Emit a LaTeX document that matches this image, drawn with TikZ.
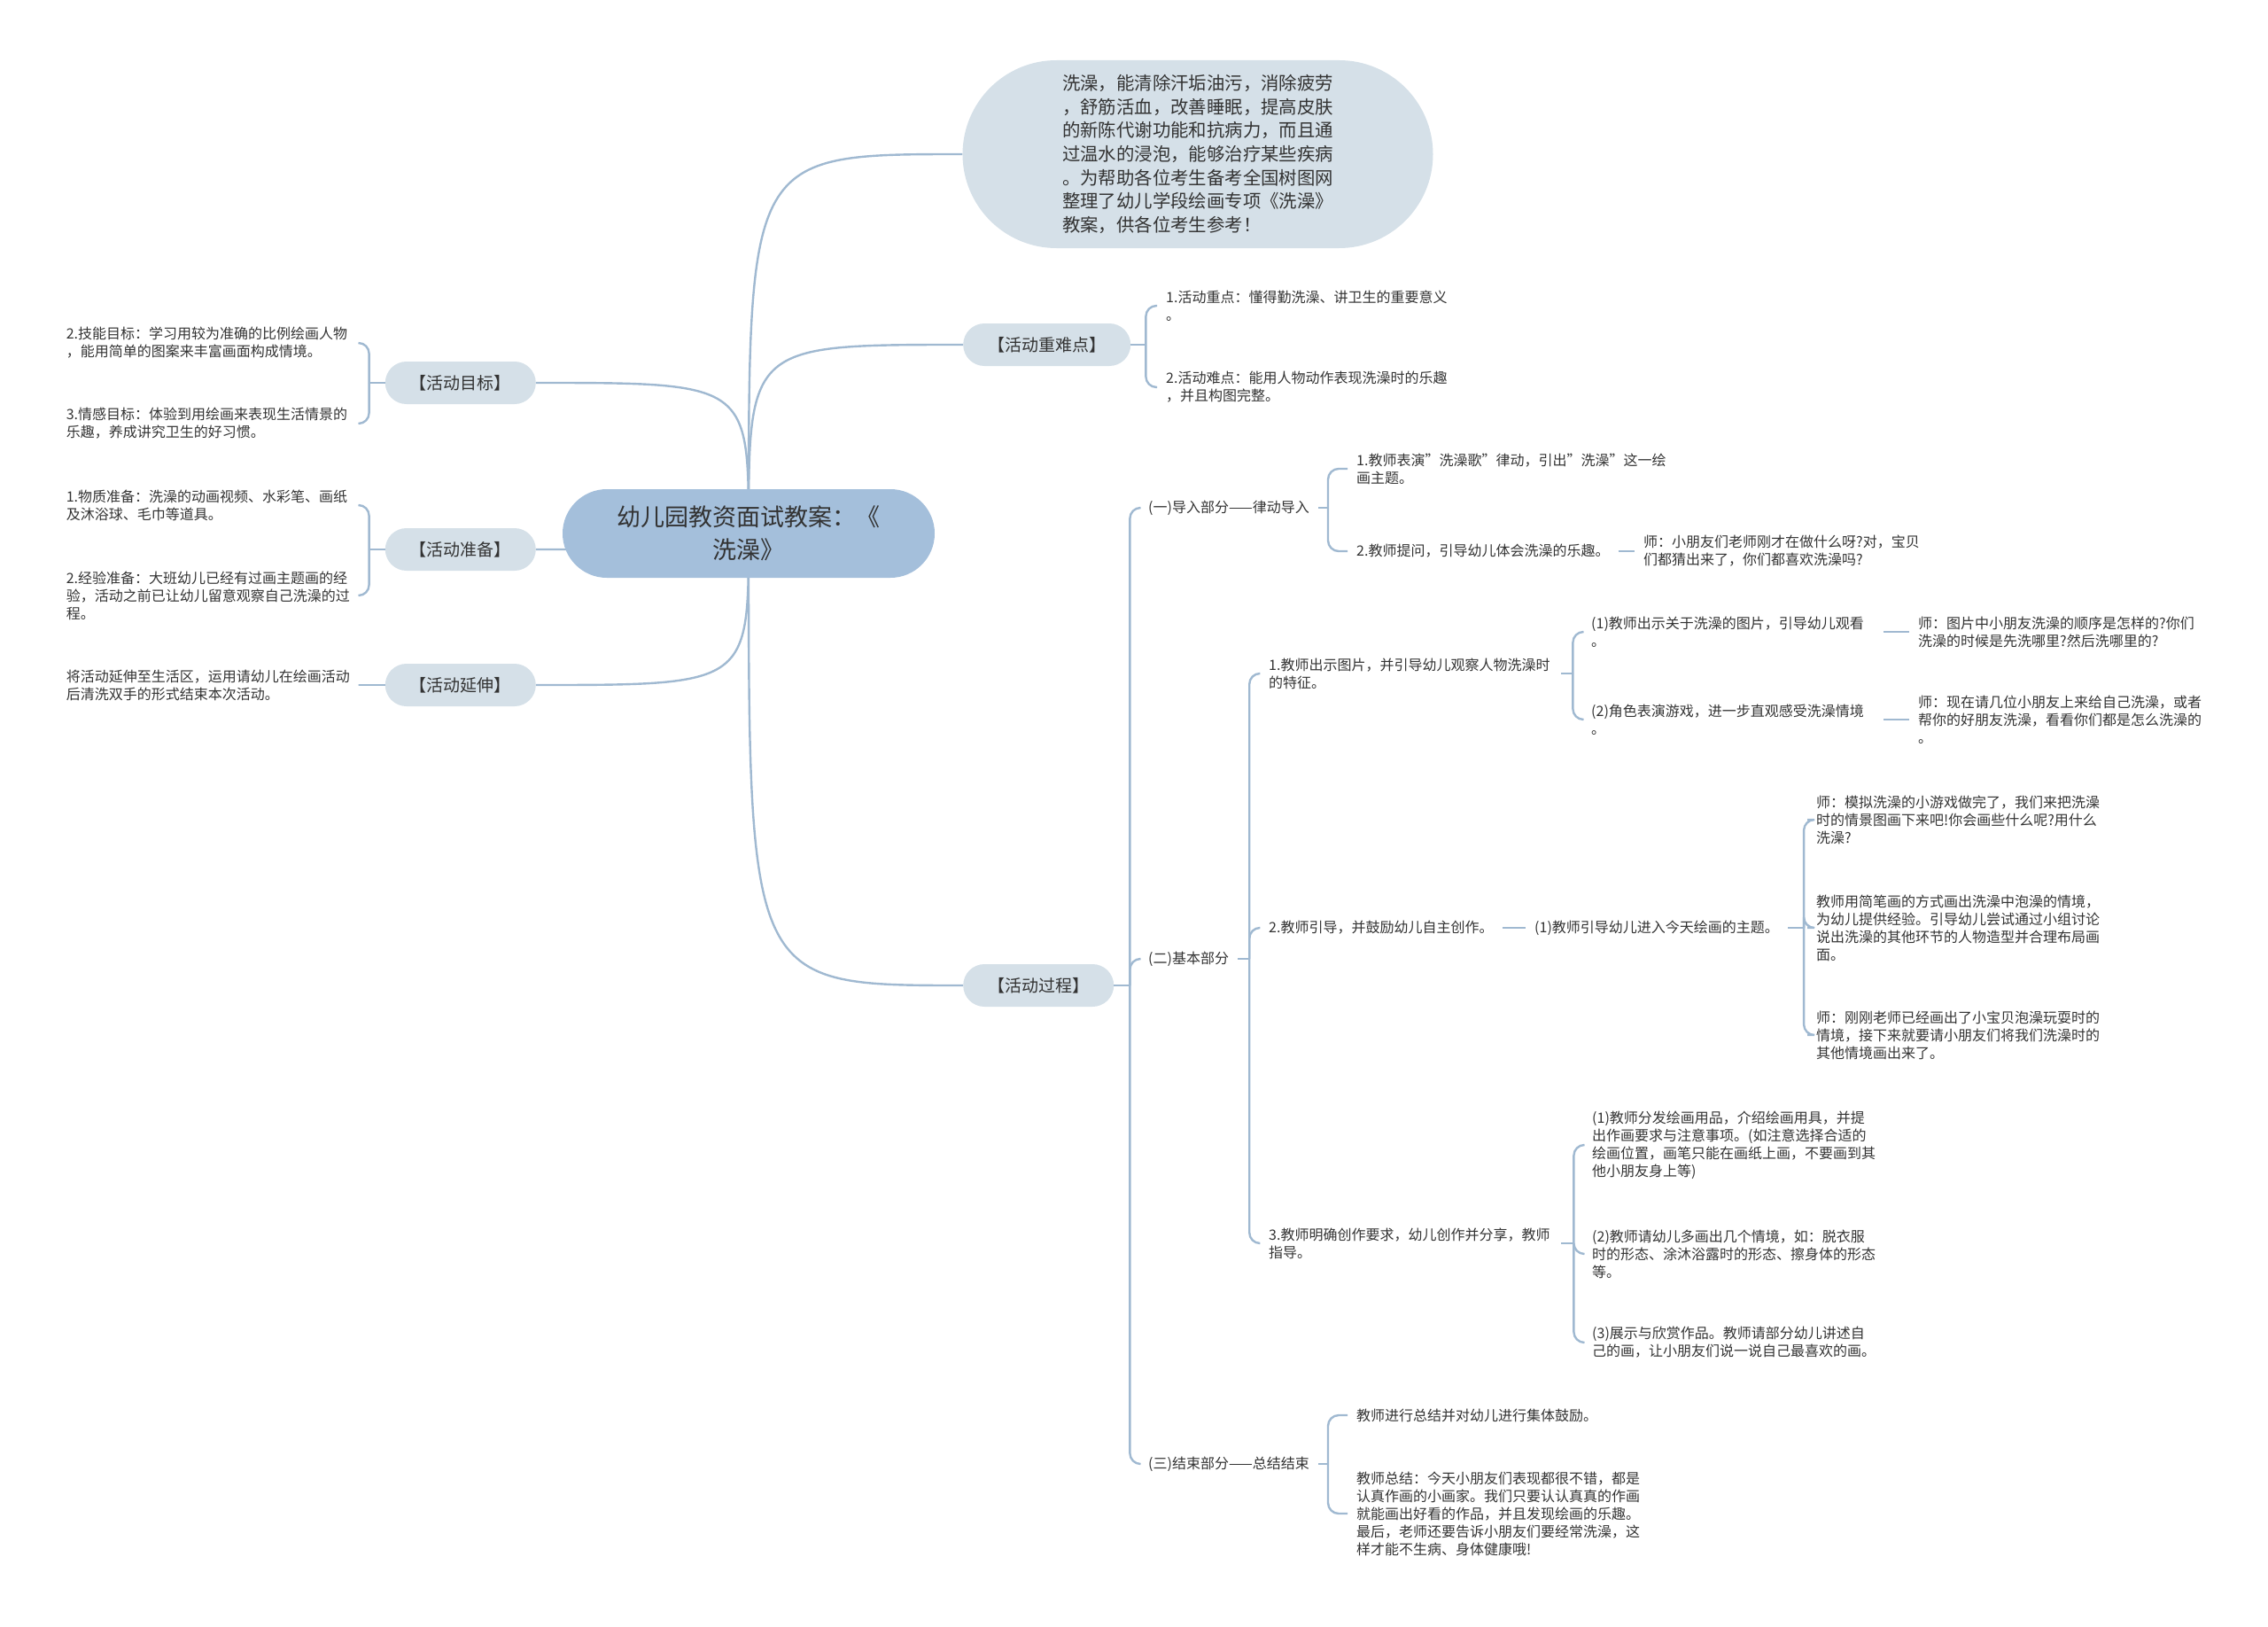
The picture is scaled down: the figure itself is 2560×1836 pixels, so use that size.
\documentclass[tikz,border=0pt]{standalone}
\usepackage{fontspec}
\setmainfont{Noto Sans CJK SC}
\usetikzlibrary{backgrounds}

\definecolor{linkblue}{RGB}{160,185,209}
\definecolor{rootblue}{RGB}{164,191,219}
\definecolor{topicgray}{RGB}{213,224,232}
\definecolor{textgray}{RGB}{51,51,51}

\begin{document}
\begin{tikzpicture}[
    x=1pt, y=-1pt,
    root/.style={rounded corners=50pt, fill=rootblue, minimum width=420pt, minimum height=100pt,
        align=center, text=textgray, font=\fontsize{27}{37}\selectfont},
    note/.style={rounded corners=106pt, fill=topicgray, minimum width=531pt, minimum height=212pt,
        align=left, text=textgray, font=\fontsize{20.4}{26.7}\selectfont},
    topic/.style={rounded corners=24pt, fill=topicgray, minimum height=48pt, inner xsep=28pt,
        text=textgray, font=\fontsize{19}{22}\selectfont},
    leaf/.style={inner xsep=10pt, inner ysep=0pt, align=left, text=textgray,
        font=\fontsize{16}{20}\selectfont},
    para/.style={leaf, text width=320pt},
    link/.style={draw=linkblue, line width=2.4pt, rounded corners=12pt}
]

    \useasboundingbox (0,0) rectangle (2560,1836);

    % Centre and first level
    \node[root] (root) at (845,602) {幼儿园教资面试教案：《\\洗澡》};

    \node[note] (note) at (1352,174) {洗澡，能清除汗垢油污，消除疲劳\\，舒筋活血，改善睡眠，提高皮肤\\的新陈代谢功能和抗病力，而且通\\过温水的浸泡，能够治疗某些疾病\\。为帮助各位考生备考全国树图网\\整理了幼儿学段绘画专项《洗澡》\\教案，供各位考生参考！\hspace*{20pt}};

    \node[topic, anchor=west] (zhongnan) at (1087,389) {【活动重难点】};
    \node[topic, anchor=east] (mubiao) at (605,432) {【活动目标】};
    \node[topic, anchor=east] (zhunbei) at (605,620) {【活动准备】};
    \node[topic, anchor=east] (yanshen) at (605,773) {【活动延伸】};
    \node[topic, anchor=west] (guocheng) at (1087,1112) {【活动过程】};

    \begin{scope}[on background layer]
        \foreach \t in {note,zhongnan,guocheng}
            \draw[link] (root.center) .. controls (root.center |- \t.west) .. (\t.west);
        \foreach \t in {mubiao,zhunbei,yanshen}
            \draw[link] (root.center) .. controls (root.center |- \t.east) .. (\t.east);
    \end{scope}

    % 活动重难点
    \node[para, anchor=west] (zn1) at (1306,345) {1.活动重点：懂得勤洗澡、讲卫生的重要意义\\。};
    \node[para, anchor=west] (zn2) at (1306,437) {2.活动难点：能用人物动作表现洗澡时的乐趣\\，并且构图完整。};

    % 活动目标
    \node[para, anchor=east] (mt1) at (405,387) {2.技能目标：学习用较为准确的比例绘画人物\\，能用简单的图案来丰富画面构成情境。};
    \node[para, anchor=east] (mt2) at (405,478) {3.情感目标：体验到用绘画来表现生活情景的\\乐趣，养成讲究卫生的好习惯。};

    % 活动准备
    \node[para, anchor=east] (zb1) at (405,570) {1.物质准备：洗澡的动画视频、水彩笔、画纸\\及沐浴球、毛巾等道具。};
    \node[para, anchor=east] (zb2) at (405,672) {2.经验准备：大班幼儿已经有过画主题画的经\\验，活动之前已让幼儿留意观察自己洗澡的过\\程。};

    % 活动延伸
    \node[para, anchor=east] (ys1) at (405,773) {将活动延伸至生活区，运用请幼儿在绘画活动\\后清洗双手的形式结束本次活动。};

    % 活动过程
    \node[leaf, anchor=west] (p1) at (1286,573) {(一)导入部分——律动导入};
    \node[leaf, anchor=west] (p2) at (1286,1082) {(二)基本部分};
    \node[leaf, anchor=west] (p3) at (1286,1652) {(三)结束部分——总结结束};

    \node[para, anchor=west] (p1a) at (1521,529) {1.教师表演"洗澡歌"律动，引出"洗澡"这一绘\\画主题。};
    \node[leaf, anchor=west] (p1b) at (1521,622) {2.教师提问，引导幼儿体会洗澡的乐趣。};
    \node[para, anchor=west] (p1b1) at (1845,622) {师：小朋友们老师刚才在做什么呀?对，宝贝\\们都猜出来了，你们都喜欢洗澡吗?};

    \node[para, anchor=west] (b1) at (1422,760) {1.教师出示图片，并引导幼儿观察人物洗澡时\\的特征。};
    \node[leaf, anchor=west] (b2) at (1422,1047) {2.教师引导，并鼓励幼儿自主创作。};
    \node[para, anchor=west] (b3) at (1422,1403) {3.教师明确创作要求，幼儿创作并分享，教师\\指导。};

    \node[para, anchor=west] (b1a) at (1786,713) {(1)教师出示关于洗澡的图片，引导幼儿观看\\。};
    \node[para, anchor=west] (b1b) at (1786,812) {(2)角色表演游戏，进一步直观感受洗澡情境\\。};
    \node[para, anchor=west] (b1a1) at (2155,713) {师：图片中小朋友洗澡的顺序是怎样的?你们\\洗澡的时候是先洗哪里?然后洗哪里的?};
    \node[para, anchor=west] (b1b1) at (2155,812) {师：现在请几位小朋友上来给自己洗澡，或者\\帮你的好朋友洗澡，看看你们都是怎么洗澡的\\。};

    \node[leaf, anchor=west] (b2a) at (1722,1047) {(1)教师引导幼儿进入今天绘画的主题。};
    \node[para, anchor=west] (b2a1) at (2040,925) {师：模拟洗澡的小游戏做完了，我们来把洗澡\\时的情景图画下来吧!你会画些什么呢?用什么\\洗澡?};
    \node[para, anchor=west] (b2a2) at (2040,1047) {教师用简笔画的方式画出洗澡中泡澡的情境，\\为幼儿提供经验。引导幼儿尝试通过小组讨论\\说出洗澡的其他环节的人物造型并合理布局画\\面。};
    \node[para, anchor=west] (b2a3) at (2040,1168) {师：刚刚老师已经画出了小宝贝泡澡玩耍时的\\情境，接下来就要请小朋友们将我们洗澡时的\\其他情境画出来了。};

    \node[para, anchor=west] (b3a) at (1787,1292) {(1)教师分发绘画用品，介绍绘画用具，并提\\出作画要求与注意事项。(如注意选择合适的\\绘画位置，画笔只能在画纸上画，不要画到其\\他小朋友身上等)};
    \node[para, anchor=west] (b3b) at (1787,1415) {(2)教师请幼儿多画出几个情境，如：脱衣服\\时的形态、涂沐浴露时的形态、擦身体的形态\\等。};
    \node[para, anchor=west] (b3c) at (1787,1515) {(3)展示与欣赏作品。教师请部分幼儿讲述自\\己的画，让小朋友们说一说自己最喜欢的画。};

    \node[leaf, anchor=west] (p3a) at (1521,1597) {教师进行总结并对幼儿进行集体鼓励。};
    \node[para, anchor=west] (p3b) at (1521,1708) {教师总结：今天小朋友们表现都很不错，都是\\认真作画的小画家。我们只要认认真真的作画\\就能画出好看的作品，并且发现绘画的乐趣。\\最后，老师还要告诉小朋友们要经常洗澡，这\\样才能不生病、身体健康哦!};

    % Brackets
    \coordinate (bzn) at ([xshift=17pt]zhongnan.east);
    \coordinate (bmt) at ([xshift=-18pt]mubiao.west);
    \coordinate (bzb) at ([xshift=-18pt]zhunbei.west);
    \coordinate (bys) at ([xshift=-18pt]yanshen.west);
    \coordinate (bgc) at ([xshift=18pt]guocheng.east);
    \coordinate (bp1) at ([xshift=11pt]p1.east);
    \coordinate (bp2) at ([xshift=13pt]p2.east);
    \coordinate (bp3) at ([xshift=11pt]p3.east);
    \coordinate (bb1) at ([xshift=13pt]b1.east);
    \coordinate (bb2) at ([xshift=18pt]b2a.east);
    \coordinate (bb3) at ([xshift=14pt]b3.east);

    % Connections
    \draw[link] (zhongnan.east) -- (bzn);
    \foreach \c in {zn1,zn2}
        \draw[link] (bzn) |- (\c.west);

    \draw[link] (mubiao.west) -- (bmt);
    \foreach \c in {mt1,mt2}
        \draw[link] (bmt) |- (\c.east);

    \draw[link] (zhunbei.west) -- (bzb);
    \foreach \c in {zb1,zb2}
        \draw[link] (bzb) |- (\c.east);

    \draw[link] (yanshen.west) -- (bys) -- (ys1.east);

    \draw[link] (guocheng.east) -- (bgc);
    \foreach \c in {p1,p2,p3}
        \draw[link] (bgc) |- (\c.west);

    \draw[link] (p1.east) -- (bp1);
    \foreach \c in {p1a,p1b}
        \draw[link] (bp1) |- (\c.west);
    \draw[link] (p1b.east) -- (p1b1.west);

    \draw[link] (p2.east) -- (bp2);
    \foreach \c in {b1,b2,b3}
        \draw[link] (bp2) |- (\c.west);

    \draw[link] (b1.east) -- (bb1);
    \foreach \c in {b1a,b1b}
        \draw[link] (bb1) |- (\c.west);
    \draw[link] (b1a.east) -- (b1a1.west);
    \draw[link] (b1b.east) -- (b1b1.west);

    \draw[link] (b2.east) -- (b2a.west);
    \draw[link] (b2a.east) -- (bb2);
    \foreach \c in {b2a1,b2a2,b2a3}
        \draw[link] (bb2) |- (\c.west);

    \draw[link] (b3.east) -- (bb3);
    \foreach \c in {b3a,b3b,b3c}
        \draw[link] (bb3) |- (\c.west);

    \draw[link] (p3.east) -- (bp3);
    \foreach \c in {p3a,p3b}
        \draw[link] (bp3) |- (\c.west);

\end{tikzpicture}
\end{document}
